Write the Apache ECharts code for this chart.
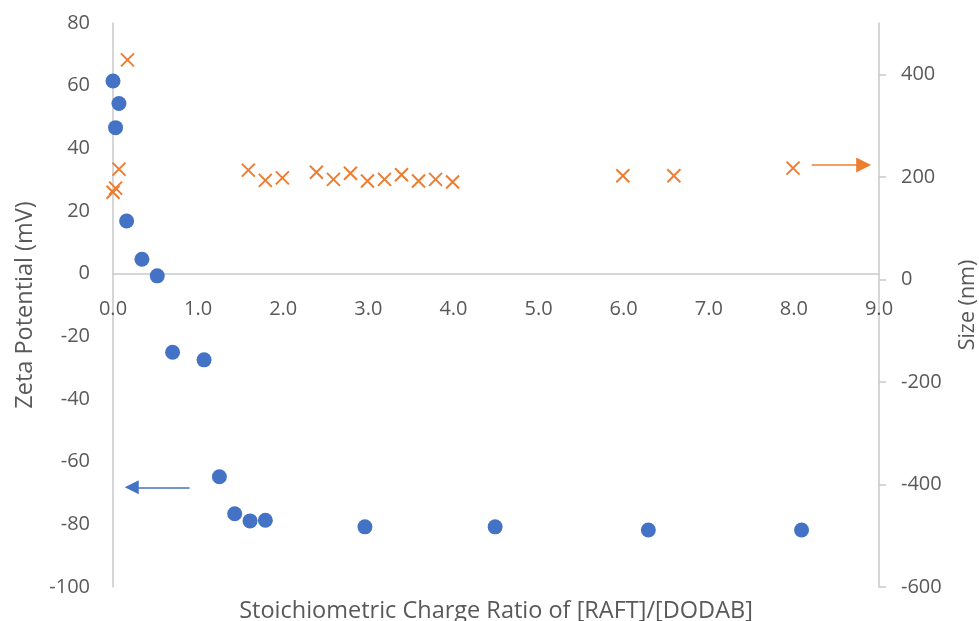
<!DOCTYPE html>
<html>
<head>
<meta charset="utf-8">
<script src="https://cdn.jsdelivr.net/npm/echarts@6/dist/echarts.min.js"></script>
<style>html,body{margin:0;padding:0;background:#fff;}#c{width:979px;height:621px;}</style>
</head>
<body>
<div id="c"></div>
<script>
// Zeta potential (left axis)
var zetaX = [0.0, 0.07, 0.03, 0.16, 0.34, 0.52, 0.70, 1.07, 1.25, 1.43, 1.61, 1.79, 2.96, 4.49, 6.29, 8.09];
var zetaY = [61.5, 54.3, 46.6, 16.8, 4.6, -0.7, -25.1, -27.5, -64.8, -76.6, -78.9, -78.7, -80.8, -80.8, -81.8, -81.8];
// Size (right axis)
var sizeX = [0.0, 0.03, 0.07, 0.17, 1.59, 1.79, 1.99, 2.39, 2.59, 2.79, 2.99, 3.19, 3.39, 3.59, 3.79, 3.99, 5.99, 6.59, 7.99];
var sizeY = [170, 178, 215, 428, 213, 193, 198, 209, 195, 207, 192, 195, 204, 192, 195, 190, 202, 202, 217];
// annotation arrows [x1, x2, y]
var zetaArrow = [0.90, 0.22, -68.2];
var sizeArrow = [8.21, 8.82, 223];

var xTitle = 'Stoichiometric Charge Ratio of [RAFT]/[DODAB]';
var yLeftTitle = 'Zeta Potential (mV)';
var yRightTitle = 'Size (nm)';

function pairs(xs, ys){ return xs.map(function(x,i){ return [x, ys[i]]; }); }

var FONT = '"Open Sans", sans-serif';
var TXT = '#595959';
var LINE = '#c9c9c9';

var chart = echarts.init(document.getElementById('c'));
chart.setOption({
  animation: false,
  backgroundColor: '#fff',
  grid: {left: 113, right: 100, top: 23, bottom: 34, containLabel: false, outerBoundsMode: 'none'},
  xAxis: [{
    type: 'value', min: 0, max: 9, interval: 1, position: 'bottom',
    axisLine: {show: true, onZero: false, lineStyle: {color: LINE, width: 1.5}},
    axisTick: {show: false},
    splitLine: {show: false},
    axisLabel: {color: TXT, fontFamily: FONT, fontSize: 20, margin: 26, formatter: function(v){ return v.toFixed(1); }}
  }, {
    type: 'value', min: 0, max: 9, position: 'bottom',
    axisLine: {show: false, onZero: false}, axisTick: {show: false}, axisLabel: {show: false}, splitLine: {show: false},
    name: xTitle, nameLocation: 'middle', nameGap: 12,
    nameTextStyle: {color: TXT, fontFamily: FONT, fontSize: 23.5}
  }],
  yAxis: [{
    type: 'value', min: -100, max: 80, interval: 20, position: 'left',
    axisLine: {show: true, onZero: false, lineStyle: {color: LINE, width: 1.5}},
    axisTick: {show: false},
    splitLine: {show: false},
    axisLabel: {color: TXT, fontFamily: FONT, fontSize: 20, margin: 23},
    name: yLeftTitle, nameLocation: 'middle', nameGap: 76, nameRotate: 90,
    nameTextStyle: {color: TXT, fontFamily: FONT, fontSize: 23.5}
  }, {
    type: 'value', min: -600, max: 500, interval: 200, position: 'right',
    axisLine: {show: true, onZero: false, lineStyle: {color: LINE, width: 1.5}},
    axisTick: {show: true, length: 7, lineStyle: {color: LINE, width: 1.5}},
    splitLine: {show: false},
    axisLabel: {color: TXT, fontFamily: FONT, fontSize: 20, margin: 22, showMaxLabel: false},
    name: yRightTitle, nameLocation: 'middle', nameGap: 78, nameRotate: 90,
    nameTextStyle: {color: TXT, fontFamily: FONT, fontSize: 21.5}
  }],
  series: [{
    type: 'scatter', name: 'Zeta', xAxisIndex: 0, yAxisIndex: 0,
    data: pairs(zetaX, zetaY),
    symbol: 'circle', symbolSize: 15,
    itemStyle: {color: '#4472C4', opacity: 1},
    markLine: {
      silent: true, symbol: ['none', 'triangle'], symbolSize: 14,
      label: {show: false},
      lineStyle: {color: '#4472C4', width: 1.5, type: 'solid'},
      data: [[{coord: [zetaArrow[0], zetaArrow[2]]}, {coord: [zetaArrow[1], zetaArrow[2]]}]]
    }
  }, {
    type: 'scatter', name: 'Size', xAxisIndex: 0, yAxisIndex: 1,
    data: pairs(sizeX, sizeY),
    symbol: 'path://M0,0 L10,10 M10,0 L0,10', symbolSize: 13,
    itemStyle: {color: 'none', borderColor: '#ED7D31', borderWidth: 2, opacity: 1},
    markLine: {
      silent: true, symbol: ['none', 'triangle'], symbolSize: 15,
      label: {show: false},
      lineStyle: {color: '#ED7D31', width: 1.5, type: 'solid'},
      data: [[{coord: [sizeArrow[0], sizeArrow[2]]}, {coord: [sizeArrow[1], sizeArrow[2]]}]]
    }
  }]
});
// place the x axis (with its labels) on the zero line of the left axis
var zeroPx = chart.convertToPixel({yAxisIndex: 0}, 0);
var minPx = chart.convertToPixel({yAxisIndex: 0}, -100);
chart.setOption({xAxis: [{offset: zeroPx - minPx}, {}]});
</script>
</body>
</html>
